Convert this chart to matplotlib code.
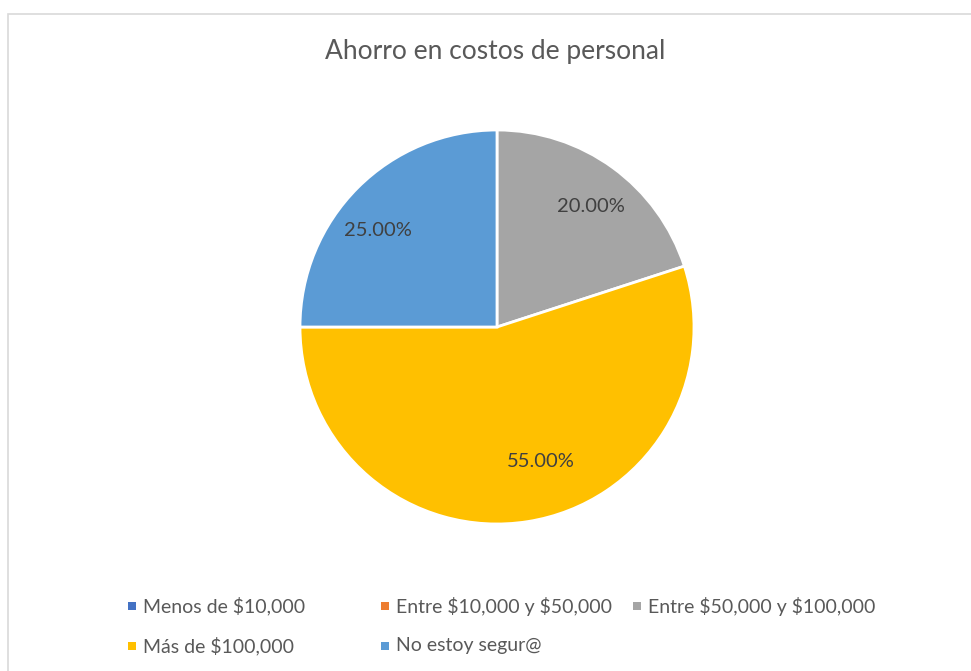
import matplotlib
matplotlib.use("Agg")
import matplotlib.pyplot as plt
from matplotlib.patches import Rectangle
import numpy as np

categories = ["Menos de $10,000", "Entre $10,000 y $50,000", "Entre $50,000 y $100,000",
              "Más de $100,000", "No estoy segur@"]
values = [0.0, 0.0, 20.0, 55.0, 25.0]
colors = ["#4472C4", "#ED7D31", "#A5A5A5", "#FFC000", "#5B9BD5"]
title = "Ahorro en costos de personal"

# "best fit" label placement tweaks (style): angle shift in degrees, radius fraction
label_shift = [0, 0, -2, 9, 6]
label_radius = [0.77, 0.77, 0.775, 0.72, 0.78]

plt.rcParams['font.family'] = ['Lato', 'DejaVu Sans']
plt.rcParams['text.parse_math'] = False
W, H = 971, 671
fig = plt.figure(figsize=(W/100, H/100), dpi=100)
fig.patches.append(Rectangle((8/W, -0.01), 1.0, (H-14)/H + 0.01, transform=fig.transFigure,
                             fill=False, edgecolor="#D9D9D9", linewidth=1.2))

ax = fig.add_axes([300/W, (H-524)/H, 394/W, 394/H])
def fmt(p):
    return "" if p < 0.01 else f"{p:.2f}%"
wedges, texts, autotexts = ax.pie(values, colors=colors, startangle=90, counterclock=False,
                                  autopct=fmt, pctdistance=0.77,
                                  wedgeprops=dict(edgecolor="white", linewidth=2),
                                  textprops=dict(color="#404040", fontsize=14.5))
for w, t, ds, rr in zip(wedges, autotexts, label_shift, label_radius):
    mid = np.deg2rad((w.theta1 + w.theta2) / 2 + ds)
    t.set_position((rr * np.cos(mid), rr * np.sin(mid)))
ax.set_aspect('equal')
ax.set_xlim(-1.0, 1.0)
ax.set_ylim(-1.0, 1.0)

fig.text(495/W, 1 - 51/H, title, ha="center", va="center", fontsize=19, color="#595959")

# legend laid out row by row, like the original
col_x = [128, 381, 633]
row_y = [606, 646]
for i, (lab, c) in enumerate(zip(categories, colors)):
    r, k = divmod(i, 3)
    x, y = col_x[k], row_y[r]
    fig.patches.append(Rectangle((x/W, 1 - (y+4)/H), 8/W, 8/H, transform=fig.transFigure,
                                 facecolor=c, edgecolor="none"))
    fig.text((x+15)/W, 1 - y/H, lab, ha="left", va="center", fontsize=14, color="#595959")

fig.savefig("out.png", dpi=100)
